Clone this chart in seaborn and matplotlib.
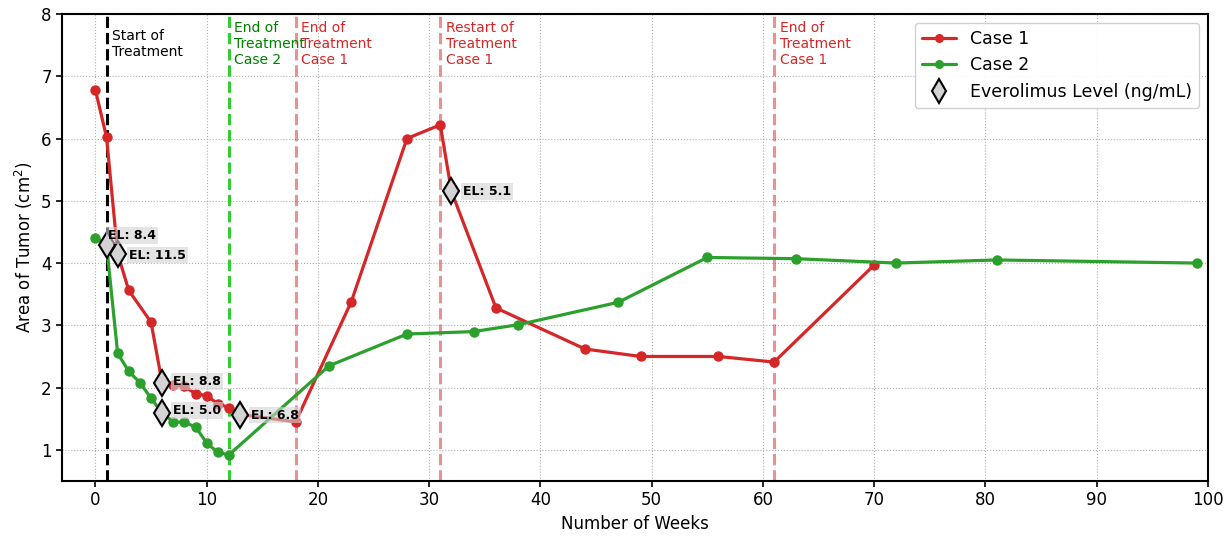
import matplotlib
matplotlib.use("Agg")
import matplotlib.pyplot as plt
import seaborn as sns
import pandas as pd
from matplotlib.lines import Line2D

# ---- data ----
case1_weeks = [0, 1, 2, 3, 5, 6, 7, 8, 9, 10, 11, 12, 13, 18, 23, 28, 31, 32, 36, 44, 49, 56, 61, 70]
case1_area = [6.78, 6.02, 4.15, 3.56, 3.05, 2.07, 2.04, 2.02, 1.90, 1.87, 1.74, 1.68, 1.57, 1.45,
              3.38, 6.00, 6.22, 5.15, 3.28, 2.62, 2.50, 2.50, 2.41, 3.97]

case2_weeks = [0, 1, 2, 3, 4, 5, 6, 7, 8, 9, 10, 11, 12, 21, 28, 34, 38, 47, 55, 63, 72, 81, 99]
case2_area = [4.41, 4.29, 2.55, 2.26, 2.08, 1.83, 1.59, 1.45, 1.44, 1.37, 1.11, 0.96, 0.92,
              2.35, 2.86, 2.90, 3.01, 3.37, 4.09, 4.07, 4.00, 4.05, 4.00]

el_weeks = [1, 2, 6, 6, 13, 32]
el_area = [4.29, 4.15, 2.07, 1.59, 1.56, 5.15]
el_values = ["8.4", "11.5", "8.8", "5.0", "6.8", "5.1"]

event_weeks = [1, 12, 18, 31, 61]
event_labels = ["Start of\nTreatment", "End of\nTreatment\nCase 2", "End of\nTreatment\nCase 1",
                "Restart of\nTreatment\nCase 1", "End of\nTreatment\nCase 1"]

# ---- style ----
sns.set_style("whitegrid", {"grid.linestyle": ":", "grid.color": "#b0b0b0",
                            "axes.edgecolor": "black"})
plt.rcParams['font.family'] = ['DejaVu Sans']
plt.rcParams.update({"text.color": "black", "axes.labelcolor": "black",
                     "xtick.color": "black", "ytick.color": "black"})

RED = "#d62728"
GREEN = "#2ca02c"

fig = plt.figure(figsize=(12.31, 5.36), dpi=100)
ax = fig.add_axes([0.0504, 0.1026, 0.9309, 0.8713])

df1 = pd.DataFrame({"week": case1_weeks, "area": case1_area})
df2 = pd.DataFrame({"week": case2_weeks, "area": case2_area})

sns.lineplot(data=df1, x="week", y="area", ax=ax, color=RED, marker="o", markersize=7.5,
             markeredgewidth=0, linewidth=2.3, zorder=3)
sns.lineplot(data=df2, x="week", y="area", ax=ax, color=GREEN, marker="o", markersize=7.5,
             markeredgewidth=0, linewidth=2.3, zorder=3)

# event lines
line_styles = [("black", "black", 1.0), ("#33cc33", "green", 1.0), (RED, RED, 0.5),
               (RED, RED, 0.5), (RED, RED, 0.5)]
for wk, lab, (lc, tc, al) in zip(event_weeks, event_labels, line_styles):
    ax.axvline(wk, color=lc, linestyle="--", linewidth=2.2, alpha=al, zorder=2)
    ax.text(wk + 0.5, 7.52, lab, color=tc, fontsize=10, ha="left", va="center", zorder=4)

# everolimus markers
ax.plot(el_weeks, el_area, linestyle="none", marker="d", markersize=13,
        markerfacecolor="lightgray", markeredgecolor="black", markeredgewidth=1.5, zorder=5)
offsets = [(1, 7), (8, -1), (8, 1), (8, 2), (8, 0), (8, 0)]
for wk, ar, v, off in zip(el_weeks, el_area, el_values, offsets):
    ax.annotate(f"EL: {v}", (wk, ar), xytext=off, textcoords="offset points",
                fontsize=9, fontweight="bold", ha="left", va="center", zorder=6,
                bbox=dict(boxstyle="square,pad=0.15", facecolor="lightgray", edgecolor="none", alpha=0.6))

ax.set_xlim(-3, 100)
ax.set_ylim(0.5, 8)
ax.set_xticks(range(0, 101, 10))
ax.set_yticks(range(1, 9))
ax.tick_params(labelsize=12, length=4, width=1.2, color="black", bottom=True, left=True)
ax.set_xlabel("Number of Weeks", fontsize=12)
ax.set_ylabel("Area of Tumor (cm$^2$)", fontsize=12)
for s in ax.spines.values():
    s.set_linewidth(1.5)

handles = [
    Line2D([0], [0], color=RED, marker="o", markersize=6.5, markeredgewidth=0, linewidth=2.3),
    Line2D([0], [0], color=GREEN, marker="o", markersize=6.5, markeredgewidth=0, linewidth=2.3),
    Line2D([0], [0], linestyle="none", marker="d", markersize=12, markerfacecolor="lightgray",
           markeredgecolor="black", markeredgewidth=1.5),
]
ax.legend(handles, ["Case 1", "Case 2", "Everolimus Level (ng/mL)"], loc="upper right",
          fontsize=12.5, frameon=True, framealpha=0.9)

fig.savefig("out.png", dpi=100)
